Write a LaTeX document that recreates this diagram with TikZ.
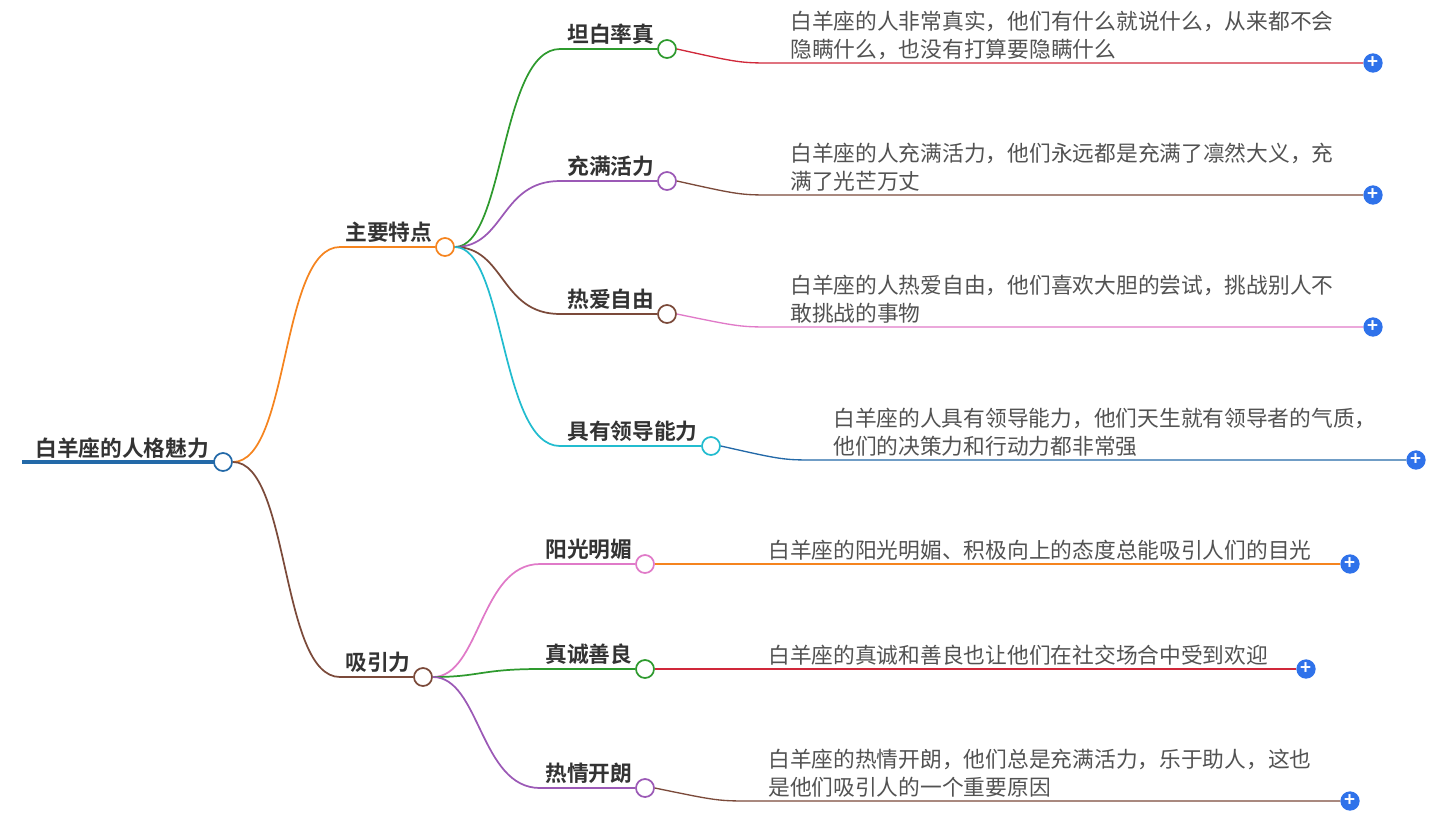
\documentclass[tikz,border=0pt]{standalone}
\usepackage{fontspec}
\setmainfont{Noto Sans CJK SC}[BoldFont={Noto Sans CJK SC Bold}]
\begin{document}
\begin{tikzpicture}[x=0.75pt,y=-0.75pt,
  dot/.style={circle,draw=#1,fill=white,line width=1.3pt,minimum size=13.5pt,inner sep=0pt},
  plus/.style={circle,fill=cpb,minimum size=14.5pt,inner sep=0pt,text=white,font=\bfseries\fontsize{14}{14}\selectfont},
  lab/.style={anchor=south west,inner sep=0pt,font=\bfseries\fontsize{16.3}{17}\selectfont,text=black!80},
  leaf/.style={anchor=south west,inner sep=0pt,align=left,font=\fontsize{16.3}{21}\selectfont,text=black!68},
  ln/.style={line width=1.3pt,draw=#1}]
\useasboundingbox (0,0) rectangle (1449,819);
\definecolor{cor}{HTML}{F5841F}\definecolor{cbr}{HTML}{7B4A3A}\definecolor{cgr}{HTML}{2E9A2E}
\definecolor{cpu}{HTML}{9B59B6}\definecolor{ccy}{HTML}{22BCCF}\definecolor{cpk}{HTML}{E07AC8}
\definecolor{cre}{HTML}{D0283A}\definecolor{cbl}{HTML}{2369A8}\definecolor{cpb}{HTML}{2F72EA}
% root
\draw[line width=3.5pt,cbl] (22,462) -- (216,462);
\node[lab] (rt) at (35,459) {白羊座的人格魅力};
\node[dot=cbl] (r) at (223,462) {};
% level 1
\node[lab] (t1) at (345,243) {主要特点};
\node[dot=cor] (a) at (445,247) {};
\draw[ln=cor] (r.east) .. controls (290,462) and (280,247) .. (340,247) -- (a.west);
\node[lab] (t2) at (345,673) {吸引力};
\node[dot=cbr] (b) at (423,677) {};
\draw[ln=cbr] (r.east) .. controls (290,462) and (280,677) .. (340,677) -- (b.west);
% A children
\foreach \n/\y/\cx/\c/\t in {a1/49/667/cgr/坦白率真, a2/181/667/cpu/充满活力, a3/314/667/cbr/热爱自由, a4/446/711/ccy/具有领导能力}{
  \node[lab] (\n t) at (567,\y-4) {\t};
  \node[dot=\c] (\n) at (\cx,\y) {};
  \draw[ln=\c] (a.east) .. controls (505,247) and (500,\y) .. (560,\y) -- (\n.west);
}
\foreach \n/\y/\c/\t in {b1/564/cpk/阳光明媚, b2/669/cgr/真诚善良, b3/788/cpu/热情开朗}{
  \node[lab] (\n t) at (545,\y-4) {\t};
  \node[dot=\c] (\n) at (645,\y) {};
  \draw[ln=\c] (b.east) .. controls (480,677) and (480,\y) .. (540,\y) -- (\n.west);
}
% leaves
\foreach \p/\y/\x/\px/\c/\t in {a1/63/790/1373/cre/{白羊座的人非常真实，他们有什么就说什么，从来都不会\\隐瞒什么，也没有打算要隐瞒什么},
  a2/195/790/1373/cbr/{白羊座的人充满活力，他们永远都是充满了凛然大义，充\\满了光芒万丈},
  a3/327/790/1373/cpk/{白羊座的人热爱自由，他们喜欢大胆的尝试，挑战别人不\\敢挑战的事物},
  a4/460/833/1416/cbl/{白羊座的人具有领导能力，他们天生就有领导者的气质，\\他们的决策力和行动力都非常强},
  b1/564/768/1350/cor/{白羊座的阳光明媚、积极向上的态度总能吸引人们的目光},
  b2/669/768/1306/cre/{白羊座的真诚和善良也让他们在社交场合中受到欢迎},
  b3/801/768/1350/cbr/{白羊座的热情开朗，他们总是充满活力，乐于助人，这也\\是他们吸引人的一个重要原因}}{
  \node[leaf] (\p l) at (\x,\y-3) {\t};
  \node[plus] (\p p) at (\px,\y) {+};
  \draw[ln=\c,line width=1pt] (\p.east) .. controls (\x-50,\y) .. (\x-15,\y) -- (\p p.west);
}
\end{tikzpicture}
\end{document}
